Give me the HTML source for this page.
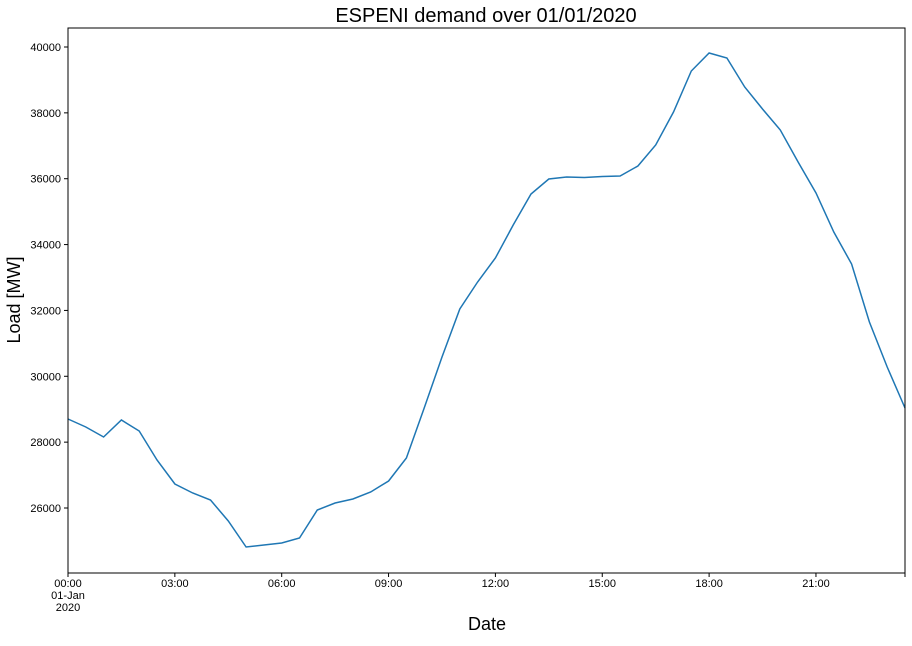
<!DOCTYPE html>
<html><head><meta charset="utf-8"><style>
body{margin:0;background:#fff;}
svg{font-family:"Liberation Sans","DejaVu Sans",sans-serif;}
</style></head><body>
<svg id="chart" width="912" height="641">
<text x="486" y="22" text-anchor="middle" font-size="20">ESPENI demand over 01/01/2020</text>
<text x="20" y="300" text-anchor="middle" font-size="18" transform="rotate(-90 20 300)">Load [MW]</text>
<text x="487" y="630" text-anchor="middle" font-size="18">Date</text>
<g id="axes"></g>
<path id="line" fill="none" stroke="#1f77b4" stroke-width="1.5"></path>
<rect x="68" y="28" width="837" height="545" fill="none" stroke="#000" stroke-width="1"></rect>
</svg>
<script>
const values=[28703,28460,28156,28672,28338,27458,26729,26455,26243,25605,24816,24876,24937,25089,25939,26152,26273,26486,26820,27518,29037,30585,32043,32863,33592,34594,35536,35991,36052,36037,36067,36082,36386,37024,38026,39271,39818,39666,38785,38117,37479,36507,35566,34381,33410,31648,30282,29037];
const yTicks=[26000,28000,30000,32000,34000,36000,38000,40000];
const xTickHours=[0,3,6,9,12,15,18,21];
const xTickLabels=["00:00","03:00","06:00","09:00","12:00","15:00","18:00","21:00"];
const L=68,R=905,T=28,B=573;
function xs(h){return L+h*(R-L)/23.5;}
function ys(v){return 508-(v-26000)*(461/14000);}
const ns="http://www.w3.org/2000/svg";
const ax=document.getElementById('axes');
function mk(tag,attrs,txt){const e=document.createElementNS(ns,tag);for(const k in attrs)e.setAttribute(k,attrs[k]);if(txt!==undefined)e.textContent=txt;ax.appendChild(e);return e;}
yTicks.forEach(v=>{const y=ys(v);
const t=mk('line',{x1:L-4,x2:L,y1:y,y2:y,stroke:'#000'});


const l=mk('text',{x:L-7,y:y+4,'text-anchor':'end','font-size':'11'},v);


});
xTickHours.forEach((h,i)=>{const x=xs(h);
const t=mk('line',{x1:x,x2:x,y1:B,y2:B+4,stroke:'#000'});


const l=mk('text',{x:x,y:B+14,'text-anchor':'middle','font-size':'11'},xTickLabels[i]);


});
const e1=mk('line',{x1:R,x2:R,y1:B,y2:B+4,stroke:'#000'});


const d1=mk('text',{x:xs(0),y:B+26,'text-anchor':'middle','font-size':'11'},'01-Jan');


const d2=mk('text',{x:xs(0),y:B+38,'text-anchor':'middle','font-size':'11'},'2020');


document.getElementById('line').setAttribute('d',values.map((v,i)=>(i?'L':'M')+xs(i*0.5).toFixed(1)+','+ys(v).toFixed(1)).join(''));
</script>
</body></html>
